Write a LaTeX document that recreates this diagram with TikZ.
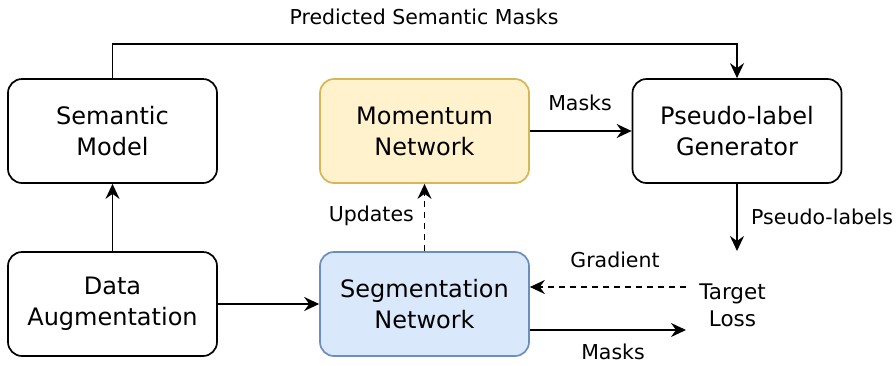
\documentclass[tikz,border=0pt]{standalone}
\usepackage{fontspec}
\setmainfont{DejaVu Sans}
\usetikzlibrary{arrows.meta}
\definecolor{yfill}{HTML}{FFF2CC}
\definecolor{ydraw}{HTML}{D6B656}
\definecolor{bfill}{HTML}{DAE8FC}
\definecolor{bdraw}{HTML}{6C8EBF}
\begin{document}
\begin{tikzpicture}[x=1pt,y=-1pt,
  box/.style={draw=black, line width=1.7pt, rounded corners=14pt, minimum width=209pt,
    minimum height=104pt, align=center, font=\fontsize{24}{31}\selectfont, inner sep=0pt},
  lbl/.style={font=\fontsize{20.5}{26}\selectfont, inner sep=0pt},
  conn/.style={line width=1.7pt, -{Stealth[length=15pt,width=14pt,inset=5pt]}},
  dconn/.style={conn, dash pattern=on 6pt off 5pt}]
\useasboundingbox (0,0) rectangle (896,365);
\node[box] (sem) at (112.5,131) {Semantic\\Model};
\node[box, fill=yfill, draw=ydraw] (mom) at (424.5,131) {Momentum\\Network};
\node[box] (gen) at (737,131) {Pseudo-label\\Generator};
\node[box] (aug) at (112.5,304) {Data\\Augmentation};
\node[box, fill=bfill, draw=bdraw] (seg) at (424.5,304) {Segmentation\\Network};
\node[align=center, font=\fontsize{21.5}{27}\selectfont, inner sep=0pt] (loss) at (732.5,305) {Target\\Loss};
\coordinate (lossin) at (686,330);
\coordinate (lossout) at (686,287);
\coordinate (losstop) at (737,251);

\draw[conn] (sem.north) -- (112.5,44) -| (gen.north);
\node[lbl] (ptext) at (424,17) {Predicted Semantic Masks};
\draw[conn] (aug.north) -- (sem.south);
\draw[conn] (aug.east) -- (seg.west);
\draw[conn] (mom.east) -- (gen.west);
\node[lbl] (m1) at (580,103) {Masks};
\draw[dconn] (seg.north) -- (mom.south);
\node[lbl, anchor=east] (upd) at (414,216) {Updates};
\draw[conn] (gen.south) -- (losstop);
\node[lbl, anchor=west] (plab) at (751,217) {Pseudo-labels};
\draw[dconn] (lossout) -- (seg.east |- lossout);
\node[lbl] (grad) at (615,260) {Gradient};
\draw[conn] (seg.east |- lossin) -- (lossin);
\node[lbl] (m2) at (613,352) {Masks};
\end{tikzpicture}
\end{document}
